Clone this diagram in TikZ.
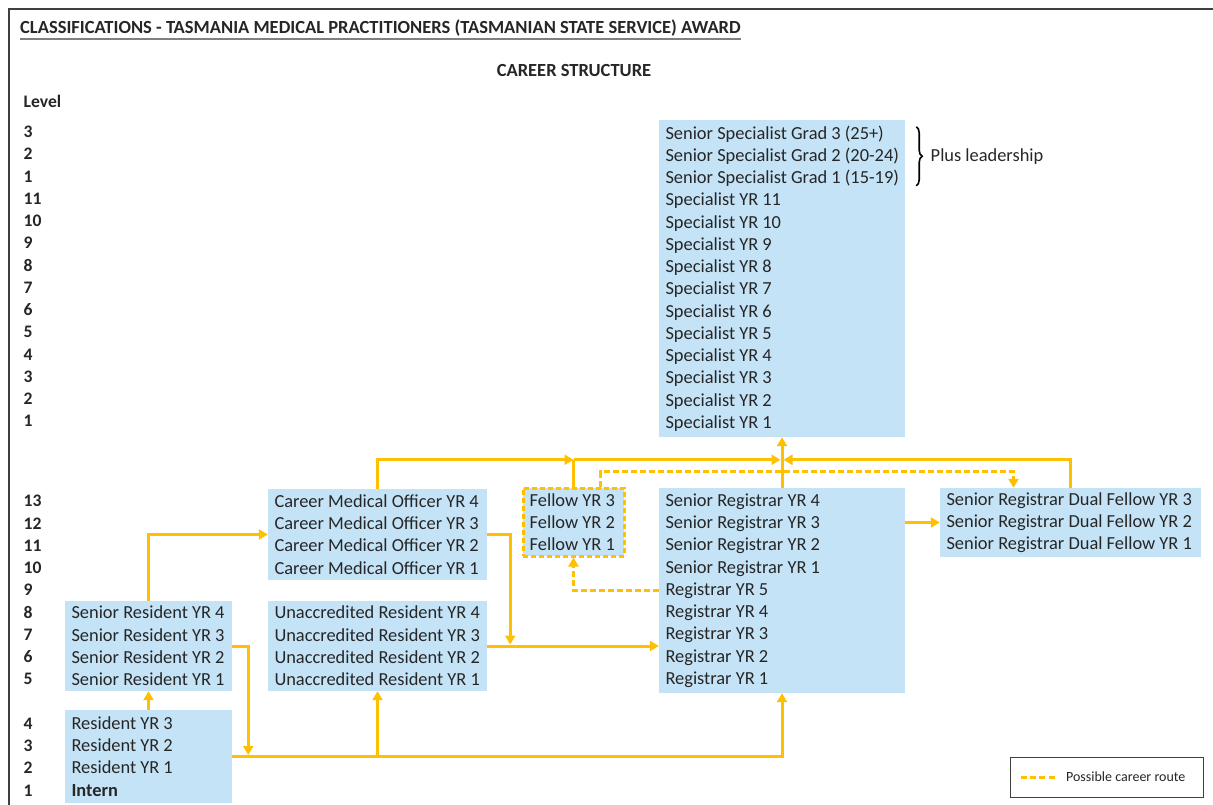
\documentclass[tikz,border=0pt]{standalone}
\usepackage{fontspec}
\setmainfont{Carlito}
\usetikzlibrary{arrows.meta,positioning,calc,decorations.pathreplacing}
\definecolor{routeorange}{HTML}{FFC000}
\definecolor{gradeblue}{HTML}{C5E3F6}
\definecolor{inkgrey}{HTML}{262626}
\definecolor{framegrey}{HTML}{404040}
\tikzset{
	gradebox/.style = {
			fill       = gradeblue,
			inner sep  = 0pt,
		},
	gradetext/.style = {
			anchor     = west,
			align      = left,
			text       = inkgrey,
			inner xsep = 6.5pt,
			inner ysep = 0pt,
			font       = \fontsize{18.4}{22.25}\selectfont,
		},
	levelnum/.style = {
			anchor = west,
			inner sep = 0pt,
			text = inkgrey,
			font = \bfseries\fontsize{17.6}{22}\selectfont,
		},
	headline/.style = {
			text = inkgrey,
			font = \bfseries\fontsize{18.5}{22}\selectfont,
		},
	routeline/.style = {draw=routeorange, line width=3pt},
	route/.style = {routeline, -{Triangle[length=9pt,width=10pt]}},
	maybe/.style = {route, dash pattern=on 6pt off 3pt},
}

\begin{document}
\begin{tikzpicture}[x=1pt,y=-1pt]
		\useasboundingbox (0,0) rectangle (1213,805);
		\draw[framegrey, line width=1.5pt] (9,805) -- (9,9) -- (1213,9);

		% headings
		\node[headline, anchor=base west, inner sep=0pt] (title) at (20,34)
		{CLASSIFICATIONS - TASMANIA MEDICAL PRACTITIONERS (TASMANIAN STATE SERVICE) AWARD};
		\draw[gray, line width=1.2pt] ([yshift=-5pt]title.base west) -- ([yshift=-5pt]title.base east);
		\node[headline] (career) at (574,71) {CAREER STRUCTURE};
		\node[levelnum] (level) at (23.5,101) {Level};

		% level numbers
		\foreach \lv [count=\i from 0] in {3,2,1,11,10,9,8,7,6,5,4,3,2,1}
		\node[levelnum] (spec\i) at (23.5,{132+22.23*\i}) {\lv};
		\foreach \lv [count=\i from 0] in {13,12,11,10,9,8,7,6,5}
		\node[levelnum] (reg\i) at (23.5,{501+22.25*\i}) {\lv};
		\foreach \lv [count=\i from 0] in {4,3,2,1}
		\node[levelnum] (res\i) at (23.5,{724+22.1*\i}) {\lv};

		% grade boxes
		\node[gradebox, minimum width=246pt, minimum height=317pt] (spec) at (782,278.5) {};
		\node[gradetext] (spectext) at (spec.west) {
			Senior Specialist Grad 3 (25+)\\
			Senior Specialist Grad 2 (20-24)\\
			Senior Specialist Grad 1 (15-19)\\
			Specialist YR 11\\ Specialist YR 10\\ Specialist YR 9\\
			Specialist YR 8\\ Specialist YR 7\\ Specialist YR 6\\
			Specialist YR 5\\ Specialist YR 4\\ Specialist YR 3\\
			Specialist YR 2\\ Specialist YR 1};
		\node[gradebox, minimum width=246pt, minimum height=205pt] (reg) at (782,590.5) {};
		\node[gradetext] (regtext) at (reg.west) {
			Senior Registrar YR 4\\ Senior Registrar YR 3\\
			Senior Registrar YR 2\\ Senior Registrar YR 1\\
			Registrar YR 5\\ Registrar YR 4\\ Registrar YR 3\\
			Registrar YR 2\\ Registrar YR 1};
		\node[gradebox, minimum width=261pt, minimum height=69pt] (dual) at (1070.5,522.5) {};
		\node[gradetext] (dualtext) at (dual.west) {
			Senior Registrar Dual Fellow YR 3\\
			Senior Registrar Dual Fellow YR 2\\
			Senior Registrar Dual Fellow YR 1};
		\node[gradebox, minimum width=101pt, minimum height=68pt, draw=routeorange,
			line width=3pt, dash pattern=on 5pt off 3pt] (fellow) at (573.5,522) {};
		\node[gradetext, xshift=1.5pt] (fellowtext) at (fellow.west) {
			Fellow YR 3\\ Fellow YR 2\\ Fellow YR 1};
		\node[gradebox, minimum width=219pt, minimum height=91pt] (cmo) at (377.5,534.5) {};
		\node[gradetext] (cmotext) at (cmo.west) {
			Career Medical Officer YR 4\\ Career Medical Officer YR 3\\
			Career Medical Officer YR 2\\ Career Medical Officer YR 1};
		\node[gradebox, minimum width=219pt, minimum height=90pt] (unacc) at (377.5,646) {};
		\node[gradetext] (unacctext) at (unacc.west) {
			Unaccredited Resident YR 4\\ Unaccredited Resident YR 3\\
			Unaccredited Resident YR 2\\ Unaccredited Resident YR 1};
		\node[gradebox, minimum width=167pt, minimum height=90pt] (sres) at (148.5,646) {};
		\node[gradetext] (srestext) at (sres.west) {
			Senior Resident YR 4\\ Senior Resident YR 3\\
			Senior Resident YR 2\\ Senior Resident YR 1};
		\node[gradebox, minimum width=167pt, minimum height=93pt] (res) at (148.5,756.5) {};
		\node[gradetext] (restext) at (res.west) {
			Resident YR 3\\ Resident YR 2\\ Resident YR 1\\ \textbf{Intern}};

		% leadership brace
		\coordinate (braceA) at ([xshift=11pt,yshift=-7pt]spec.north east);
		\coordinate (braceB) at ([xshift=11pt,yshift=-66pt]spec.north east);
		\draw[black, line width=1.6pt, decorate, decoration={brace, amplitude=6pt}] (braceA) -- (braceB);
		\node[anchor=west, text=inkgrey, font=\fontsize{18.4}{22.3}\selectfont]
		(lead) at ([xshift=11pt]$(braceA)!0.5!(braceB)$) {Plus leadership};

		% career routes
		\coordinate (hub) at ([yshift=28pt]reg.north);
		\coordinate (dualtop) at ([yshift=16pt]dual.north);
		\draw[route] (res.east) -| (reg.south);
		\draw[route] (res.east -| unacc.south) -- (unacc.south);
		\draw[route] (res.north) -- (sres.south);
		\draw[route, shorten >=1.5pt] (sres.east) -| ([xshift=16pt]res.east);
		\draw[route] (sres.north) |- (cmo.west);
		\draw[route, shorten >=1.5pt] (cmo.east) -| ([xshift=23pt]unacc.east);
		\draw[route] (unacc.east) -- (reg.west |- unacc.east);
		\draw[route] (cmo.north) |- (fellow.north |- hub);
		\draw[routeline] (fellow.north) -- (fellow.north |- hub);
		\draw[route, shorten >=1.5pt] (fellow.north |- hub) -- (hub);
		\draw[route, shorten >=1.5pt] (dual.north) |- (hub);
		\draw[route] (reg.north) -- (spec.south);
		\draw[route] (reg.east |- dual.west) -- (dual.west);
		\draw[maybe] (reg.west) -| (fellow.south);
		\draw[maybe] ([xshift=27pt]fellow.north) |- ([xshift=-57pt]dualtop) -- ([xshift=-57pt]dual.north);

		% key
		\node[draw=framegrey, line width=0.8pt, minimum width=193pt, minimum height=40pt] (legend) at (1106.5,777) {};
		\coordinate (keyA) at ([xshift=11pt]legend.west);
		\coordinate (keyB) at ([xshift=45pt]legend.west);
		\draw[routeline, dash pattern=on 6pt off 3.3pt] (keyA) -- (keyB);
		\node[anchor=west, text=inkgrey, font=\fontsize{14}{16}\selectfont]
		(keytext) at ([xshift=53pt]legend.west) {Possible career route};
	\end{tikzpicture}
\end{document}
